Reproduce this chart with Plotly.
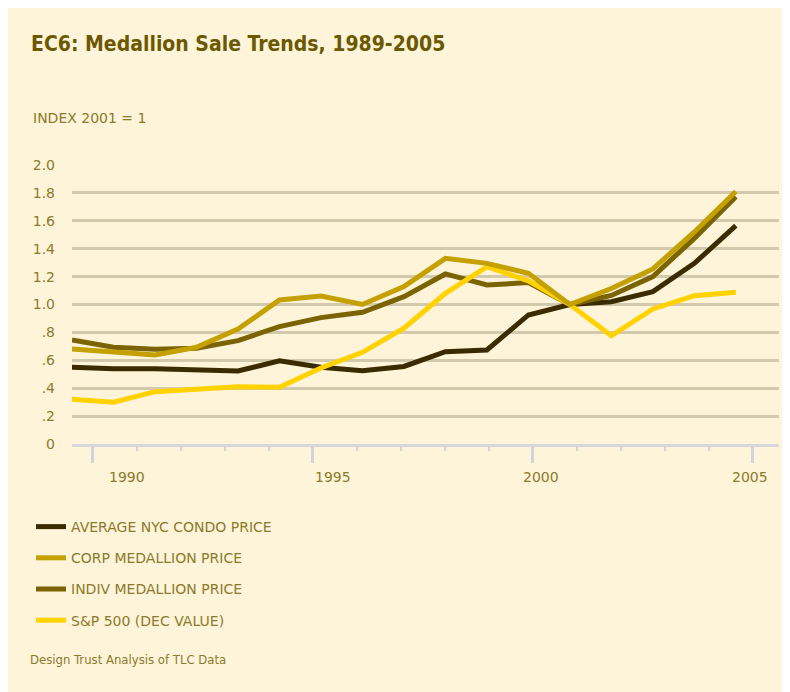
import plotly.graph_objects as go

years = list(range(1989, 2006))
condo = [0.55, 0.54, 0.54, 0.535, 0.523, 0.597, 0.55, 0.525, 0.556, 0.662, 0.674, 0.925, 1.0, 1.02, 1.092, 1.295, 1.565]
corp = [0.681, 0.657, 0.638, 0.693, 0.824, 1.032, 1.061, 1.0, 1.128, 1.331, 1.295, 1.224, 1.0, 1.115, 1.255, 1.52, 1.81]
indiv = [0.746, 0.693, 0.679, 0.686, 0.741, 0.841, 0.906, 0.944, 1.056, 1.219, 1.14, 1.157, 1.0, 1.065, 1.2, 1.474, 1.773]
sp500 = [0.32, 0.299, 0.375, 0.392, 0.411, 0.406, 0.545, 0.657, 0.83, 1.08, 1.271, 1.17, 1.0, 0.776, 0.968, 1.063, 1.087]

series_names = ["AVERAGE NYC CONDO PRICE", "CORP MEDALLION PRICE", "INDIV MEDALLION PRICE", "S&P 500 (DEC VALUE)"]
series_colors = ["#3b2c00", "#c4a000", "#7a6300", "#ffd200"]

y_ticks = [0, 0.2, 0.4, 0.6, 0.8, 1.0, 1.2, 1.4, 1.6, 1.8, 2.0]
y_ticktext = ["0", ".2", ".4", ".6", ".8", "1.0", "1.2", "1.4", "1.6", "1.8", "2.0"]
x_labels = ["1990", "1995", "2000", "2005"]
x_label_pos = [1990.33, 1995.29, 2000.30, 2005.34]

title_text = "EC6: Medallion Sale Trends, 1989-2005"
unit_text = "INDEX 2001 = 1"
source_text = "Design Trust Analysis of TLC Data"

BG = "#fdf4da"
TXT = "#8d7a2a"
FONT = "'DejaVu Sans', sans-serif"
NARROW = "'Liberation Sans Narrow', 'DejaVu Sans Condensed', sans-serif"

fig = go.Figure()
values = [condo, corp, indiv, sp500]
draw_order = [0, 2, 3, 1]
for i in draw_order:
    fig.add_trace(go.Scatter(
        x=years, y=values[i], mode="lines", name=series_names[i],
        line=dict(color=series_colors[i], width=5),
        legendgroup=f"g{i}", legendrank=i + 1,
    ))

# figure is placed in the page with an 8px body margin; it extends past the window
W, H = 800, 700
OX, OY = 8, 8
L = 72 - OX
T = 165 - OY
B = H - (444 - OY)
R = W - (779 - OX)
pw, ph = W - L - R, H - T - B

def px_x(sx):
    return (sx - OX - L) / pw

def px_y(sy):
    return (H - B - (sy - OY)) / ph

annotations = []
for lab, xp in zip(x_labels, x_label_pos):
    annotations.append(dict(x=xp, y=px_y(477), xref="x", yref="paper", text=lab,
                            showarrow=False, xanchor="center", yanchor="middle",
                            font=dict(family=FONT, size=14, color=TXT)))
annotations.append(dict(x=px_x(31), y=px_y(118), xref="paper", yref="paper", text=unit_text,
                        showarrow=False, xanchor="left", yanchor="middle",
                        font=dict(family=FONT, size=14, color=TXT)))
annotations.append(dict(x=px_x(28), y=px_y(659), xref="paper", yref="paper", text=source_text,
                        showarrow=False, xanchor="left", yanchor="middle",
                        font=dict(family=NARROW, size=13, color=TXT)))

fig.update_layout(
    width=W, height=H,
    margin=dict(l=L, r=R, t=T, b=B, autoexpand=False),
    paper_bgcolor=BG,
    plot_bgcolor=BG,
    title=dict(text=f"<b>{title_text}</b>", x=(31 - OX) / W, xanchor="left", xref="container",
               y=1 - (44 - OY) / H, yref="container", yanchor="middle",
               font=dict(family=NARROW, size=21, color="#6b5800")),
    showlegend=True,
    legend=dict(x=(31 - OX) / W, xref="container", y=1 - (511 - OY) / H, yref="container",
                xanchor="left", yanchor="top", traceorder="grouped", tracegroupgap=10,
                bgcolor="rgba(0,0,0,0)", font=dict(family=FONT, size=14, color=TXT)),
    annotations=annotations,
    xaxis=dict(range=[1989, 2006.04], showgrid=False, zeroline=False,
               showline=True, linecolor="#d8d8dc", linewidth=3,
               tickmode="linear", tick0=1989.506, dtick=5.3, ticks="outside", ticklen=16,
               tickwidth=2.5, tickcolor="#d2d4dc", showticklabels=False,
               minor=dict(tickmode="linear", tick0=1989.506, dtick=1.06, ticks="outside",
                          ticklen=4, tickwidth=2, tickcolor="#d2d4dc", showgrid=False)),
    yaxis=dict(range=[0, 2.0], tickvals=y_ticks, ticktext=y_ticktext, showgrid=True,
               gridcolor="#d3caae", gridwidth=2.5, zeroline=False, showline=False,
               ticks="", ticklabelstandoff=16,
               tickfont=dict(family=FONT, size=14, color=TXT)),
)

fig.write_html("out.html")
